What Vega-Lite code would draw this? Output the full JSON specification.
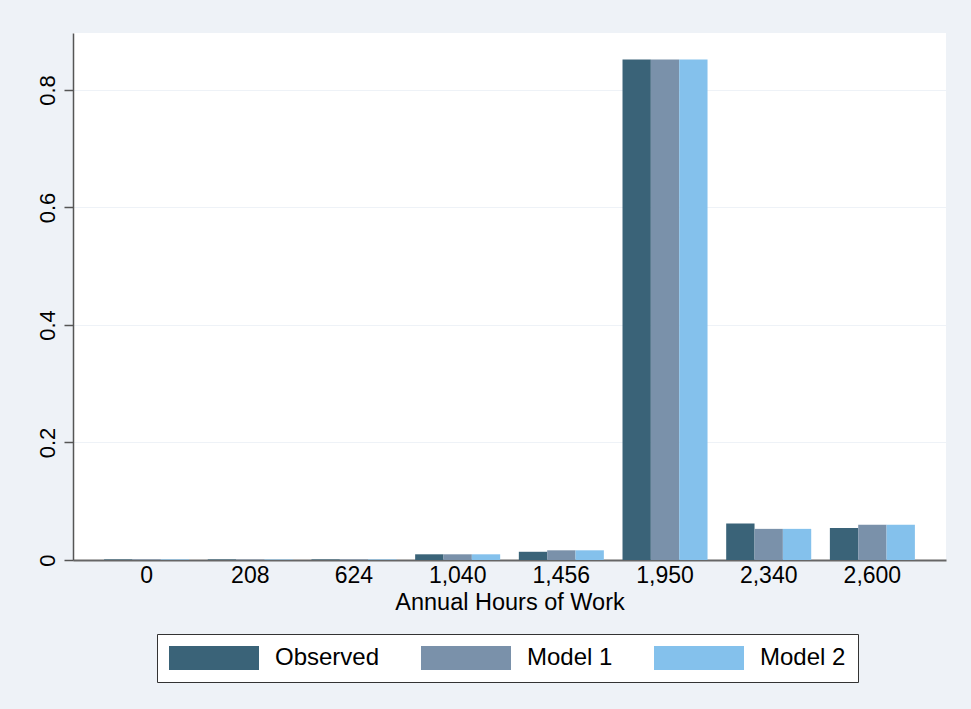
{
  "$schema": "https://vega.github.io/schema/vega-lite/v6.json",
  "width": 873,
  "height": 527,
  "autosize": {"type": "none"},
  "padding": {"left": 73, "top": 33, "right": 25, "bottom": 149},
  "background": "#eef2f7",
  "config": {
    "view": {"fill": "white", "stroke": null},
    "font": "Liberation Sans"
  },
  "data": {
    "values": [
      {"hours": "0", "series": "Observed", "share": 0.001},
      {"hours": "0", "series": "Model 1", "share": 0.001},
      {"hours": "0", "series": "Model 2", "share": 0.001},
      {"hours": "208", "series": "Observed", "share": 0.001},
      {"hours": "208", "series": "Model 1", "share": 0.0008},
      {"hours": "208", "series": "Model 2", "share": 0.0008},
      {"hours": "624", "series": "Observed", "share": 0.001},
      {"hours": "624", "series": "Model 1", "share": 0.001},
      {"hours": "624", "series": "Model 2", "share": 0.001},
      {"hours": "1,040", "series": "Observed", "share": 0.0097},
      {"hours": "1,040", "series": "Model 1", "share": 0.0097},
      {"hours": "1,040", "series": "Model 2", "share": 0.0097},
      {"hours": "1,456", "series": "Observed", "share": 0.014},
      {"hours": "1,456", "series": "Model 1", "share": 0.0165},
      {"hours": "1,456", "series": "Model 2", "share": 0.0165},
      {"hours": "1,950", "series": "Observed", "share": 0.852},
      {"hours": "1,950", "series": "Model 1", "share": 0.852},
      {"hours": "1,950", "series": "Model 2", "share": 0.852},
      {"hours": "2,340", "series": "Observed", "share": 0.062},
      {"hours": "2,340", "series": "Model 1", "share": 0.053},
      {"hours": "2,340", "series": "Model 2", "share": 0.053},
      {"hours": "2,600", "series": "Observed", "share": 0.0545},
      {"hours": "2,600", "series": "Model 1", "share": 0.06},
      {"hours": "2,600", "series": "Model 2", "share": 0.06}
    ]
  },
  "mark": {"type": "bar"},
  "encoding": {
    "x": {
      "field": "hours",
      "type": "nominal",
      "sort": ["0", "208", "624", "1,040", "1,456", "1,950", "2,340", "2,600"],
      "scale": {"paddingInner": 0.18, "paddingOuter": 0.3},
      "axis": {
        "title": "Annual Hours of Work",
        "titleFontSize": 23.5,
        "titleFontWeight": "normal",
        "titleColor": "black",
        "titlePadding": 3,
        "labelAngle": 0,
        "labelFontSize": 23,
        "labelColor": "black",
        "labelPadding": 4,
        "ticks": false,
        "domainColor": "#666666",
        "domainWidth": 2,
        "grid": false
      }
    },
    "xOffset": {
      "field": "series",
      "type": "nominal",
      "sort": ["Observed", "Model 1", "Model 2"],
      "scale": {"paddingInner": 0, "paddingOuter": 0}
    },
    "y": {
      "field": "share",
      "type": "quantitative",
      "scale": {"domain": [0, 0.897], "nice": false},
      "axis": {
        "title": null,
        "values": [0, 0.2, 0.4, 0.6, 0.8],
        "format": "~g",
        "labelAngle": -90,
        "labelFontSize": 22,
        "labelColor": "black",
        "labelPadding": 5,
        "tickSize": 9,
        "tickColor": "#555555",
        "tickWidth": 1.5,
        "domainColor": "#555555",
        "domainWidth": 1.5,
        "grid": true,
        "gridColor": "#eef2f7",
        "gridWidth": 1
      }
    },
    "color": {
      "field": "series",
      "type": "nominal",
      "sort": ["Observed", "Model 1", "Model 2"],
      "scale": {
        "domain": ["Observed", "Model 1", "Model 2"],
        "range": ["#3a6378", "#7a91aa", "#84c1ec"]
      },
      "legend": {
        "title": null,
        "orient": "none",
        "legendX": 84,
        "legendY": 601,
        "direction": "horizontal",
        "symbolType": "M -1 -1 L 6.5 -1 L 6.5 1 L -1 1 Z",
        "symbolSize": 576,
        "symbolStrokeWidth": 0,
        "labelOffset": 82,
        "labelFontSize": 24,
        "labelColor": "black",
        "columnPadding": 41,
        "padding": 12,
        "strokeColor": "#333333",
        "fillColor": "white",
        "cornerRadius": 0
      }
    }
  }
}
